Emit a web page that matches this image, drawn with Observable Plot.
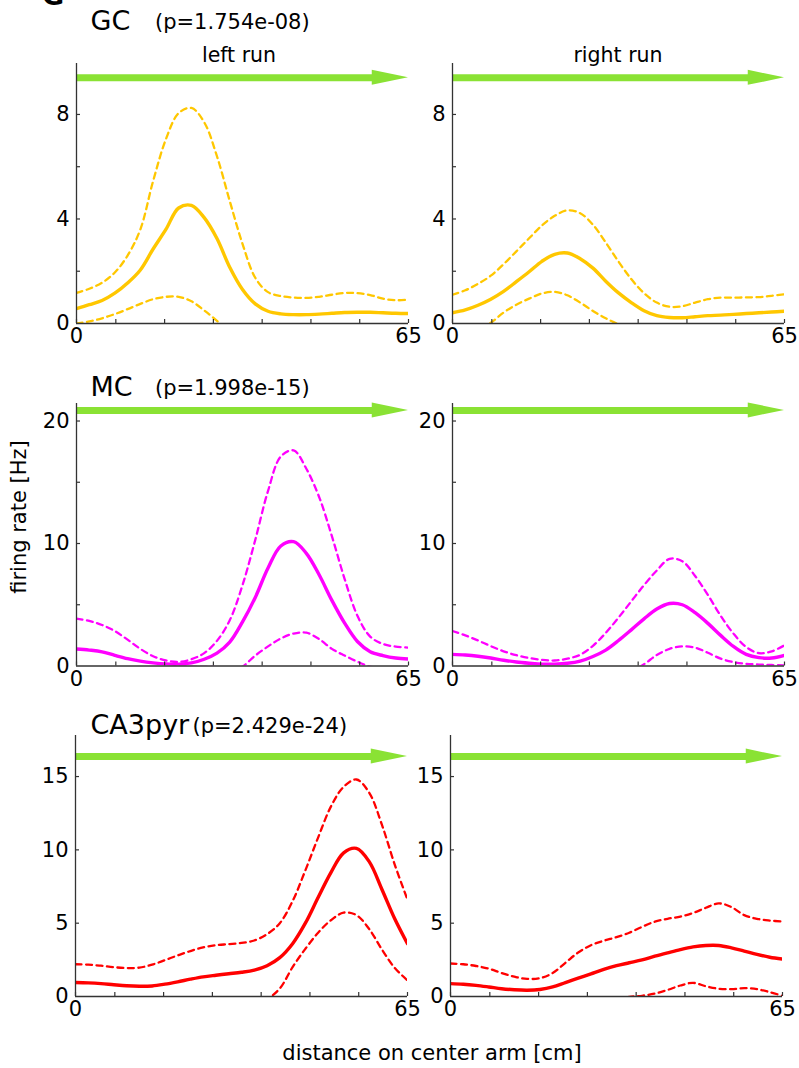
<!DOCTYPE html>
<html><head><meta charset="utf-8">
<script src="https://cdn.jsdelivr.net/npm/d3@7"></script>
<script src="https://cdn.jsdelivr.net/npm/@observablehq/plot@0.6"></script>
<style>
html,body{margin:0;padding:0;background:#fff;overflow:hidden;}
#fig{position:relative;width:799px;height:1068px;font-family:"DejaVu Sans",sans-serif;color:#000;overflow:hidden;}
.t{position:absolute;white-space:nowrap;line-height:1;}
.panel{position:absolute;}
</style></head><body><div id="fig"></div>
<script>
// ---- data ----
const xPos = [0,2.5,5,7.5,10,12.5,15,17.5,20,22.5,25,27.5,30,32.5,35,37.5,40,42.5,45,47.5,50,52.5,55,57.5,60,62.5,65];

const gcLeftMean  = [0.57,0.72,0.88,1.16,1.55,2.05,2.85,3.6,4.42,4.52,4.05,3.25,2.15,1.3,0.75,0.47,0.37,0.34,0.34,0.36,0.39,0.42,0.43,0.43,0.41,0.39,0.38];
const gcLeftUpper = [1.17,1.33,1.56,1.95,2.6,3.6,5.45,7.05,8.05,8.25,7.7,6.4,4.69,3.05,1.75,1.2,1.05,0.99,0.98,1.02,1.1,1.17,1.16,1.09,0.95,0.89,0.91];
const gcLeftLower = [0,0.08,0.2,0.36,0.55,0.75,0.93,1.02,1.02,0.85,0.5,0.1,-0.35,-0.45,-0.35,-0.3,-0.3,-0.3,-0.3,-0.3,-0.3,-0.3,-0.3,-0.3,-0.3,-0.3,-0.3];
const gcRightMean  = [0.41,0.52,0.7,0.93,1.23,1.6,1.98,2.38,2.65,2.7,2.48,2.12,1.62,1.17,0.8,0.49,0.3,0.23,0.22,0.26,0.3,0.32,0.35,0.38,0.41,0.44,0.47];
const gcRightUpper = [1.1,1.27,1.52,1.83,2.27,2.76,3.26,3.75,4.12,4.33,4.22,3.78,3.1,2.37,1.7,1.16,0.8,0.64,0.66,0.8,0.93,0.99,0.99,1.0,1.01,1.06,1.12];
const gcRightLower = [-0.7,-0.45,-0.2,0.03,0.42,0.72,0.95,1.15,1.21,1.08,0.8,0.48,0.2,-0.02,-0.1,-0.18,-0.2,-0.2,-0.2,-0.2,-0.2,-0.2,-0.2,-0.2,-0.2,-0.2,-0.2];

const mcLeftMean  = [1.39,1.3,1.16,0.87,0.6,0.4,0.26,0.17,0.15,0.25,0.55,1.05,1.95,3.6,5.6,8.0,9.8,10.15,9.2,7.45,5.36,3.5,2.0,1.17,0.85,0.65,0.57];
const mcLeftUpper = [3.87,3.68,3.35,2.85,2.15,1.4,0.8,0.45,0.33,0.55,1.05,2.05,3.73,6.6,10.3,14.3,17.1,17.6,16.1,13.8,10.6,7.1,4.1,2.4,1.8,1.58,1.5];
const mcLeftLower = [-1.1,-1.08,-1.03,-1.1,-0.95,-0.6,-0.28,-0.1,-0.03,-0.05,-0.05,-0.1,-0.5,-0.05,0.85,1.6,2.25,2.65,2.72,2.2,1.4,0.85,0.35,-0.05,-0.2,-0.3,-0.35];
const mcRightMean  = [0.95,0.9,0.8,0.65,0.47,0.33,0.23,0.15,0.15,0.22,0.4,0.78,1.3,2.08,2.95,3.85,4.65,5.1,5.0,4.35,3.48,2.5,1.6,0.95,0.68,0.65,0.87];
const mcRightUpper = [2.86,2.5,2.08,1.62,1.2,0.88,0.65,0.5,0.45,0.6,0.92,1.65,2.7,3.95,5.28,6.6,7.8,8.75,8.55,7.35,5.8,4.1,2.65,1.55,1.05,1.2,1.69];
const mcRightLower = [-0.96,-0.7,-0.48,-0.32,-0.26,-0.22,-0.19,-0.2,-0.15,-0.16,-0.12,-0.1,-0.1,-0.25,-0.4,0.15,0.9,1.4,1.6,1.5,1.08,0.6,0.32,0.18,0.12,0.08,0.05];

const caLeftMean  = [0.95,0.93,0.88,0.8,0.73,0.7,0.72,0.84,1.0,1.18,1.34,1.45,1.55,1.65,1.8,2.1,2.65,3.6,5.0,6.75,8.45,9.8,10.1,9.2,7.3,5.3,3.6];
const caLeftUpper = [2.2,2.17,2.1,2.0,1.94,1.97,2.17,2.48,2.8,3.1,3.35,3.5,3.57,3.65,3.82,4.25,5.0,6.5,8.6,10.84,12.95,14.3,14.8,13.9,11.7,9.0,6.6];
const caLeftLower = [-0.3,-0.3,-0.35,-0.4,-0.5,-0.55,-0.7,-0.8,-0.8,-0.75,-0.7,-0.6,-0.5,-0.4,-0.3,-0.15,0.55,2.0,3.25,4.35,5.2,5.72,5.55,4.6,3.2,1.95,1.1];
const caRightMean  = [0.88,0.84,0.76,0.65,0.53,0.46,0.43,0.48,0.65,0.95,1.25,1.55,1.85,2.1,2.3,2.5,2.75,2.98,3.2,3.38,3.48,3.48,3.32,3.1,2.87,2.68,2.55];
const caRightUpper = [2.25,2.2,2.08,1.9,1.6,1.35,1.2,1.25,1.6,2.3,3.0,3.5,3.8,4.05,4.35,4.75,5.1,5.3,5.45,5.7,6.05,6.35,6.1,5.55,5.3,5.18,5.11];
const caRightLower = [-0.49,-0.52,-0.56,-0.6,-0.54,-0.43,-0.34,-0.29,-0.3,-0.4,-0.5,-0.4,-0.1,-0.15,-0.02,0.05,0.2,0.45,0.75,0.93,0.7,0.53,0.5,0.57,0.5,0.3,0.05];

const cellNames = ["GC", "MC", "CA3pyr"];
const pValues = ["(p=1.754e-08)", "(p=1.998e-15)", "(p=2.429e-24)"];
const runLabels = ["left run", "right run"];
const lineColors = ["#ffc700", "#ff00ff", "#ff0000"];
const yMaxes = [9.95, 21.43, 17.8];
const yTickSets = [[2,4,6,8], [5,10,15,20], [5,10,15]];
const yTickLabels = [[0,4,8], [0,10,20], [0,5,10,15]];
const arrowYs = [9.4, 20.86, 16.36];
const xTicks = [0,7.7,17.25,26.8,36.35,45.9,55.45,65];
const xTickLabels = [0, 65];
const xDomain = [0, 65];
const arrowHeadStart = 57.9;
const xLabel = "distance on center arm [cm]";
const yLabel = "firing rate [Hz]";

// ---- layout ----
const green = "#8ae234", axisColor = "#333";
const ML = 44, MR = 14, MT = 12, MB = 34, innerW = 332;
const frameTops = [63, 403, 735];
const innerHs = [260, 262.5, 261];
const frameLefts = [[76, 452], [76, 452], [74.5, 450]];

const series = [
  [[gcLeftMean, gcLeftUpper, gcLeftLower], [gcRightMean, gcRightUpper, gcRightLower]],
  [[mcLeftMean, mcLeftUpper, mcLeftLower], [mcRightMean, mcRightUpper, mcRightLower]],
  [[caLeftMean, caLeftUpper, caLeftLower], [caRightMean, caRightUpper, caRightLower]]
];

const fig = document.getElementById("fig");

function panel(r, c) {
  const [mean, upper, lower] = series[r][c];
  const rows = xPos.map((x, i) => ({x, mean: mean[i], upper: upper[i], lower: lower[i]}));
  const yMax = yMaxes[r], innerH = innerHs[r], ay = arrowYs[r];
  const hh = 7.5 * yMax / innerH;
  const head = [{x: arrowHeadStart, lo: ay - hh, hi: ay + hh}, {x: xDomain[1], lo: ay, hi: ay}];
  const color = lineColors[r];
  const dashed = {x: "x", stroke: color, strokeWidth: 2.3, strokeDasharray: "6,4.5", curve: "catmull-rom", clip: true};
  return Plot.plot({
    width: ML + innerW + MR, height: MT + innerH + MB,
    marginLeft: ML, marginRight: MR, marginTop: MT, marginBottom: MB,
    x: {domain: xDomain}, y: {domain: [0, yMax]},
    style: {fontFamily: "DejaVu Sans", fontSize: "21px", background: "transparent", color: "#000", overflow: "visible"},
    marks: [
      Plot.line(rows, {...dashed, y: "upper"}),
      Plot.line(rows, {...dashed, y: "lower"}),
      Plot.line(rows, {x: "x", y: "mean", stroke: color, strokeWidth: 3.4, curve: "catmull-rom", clip: true}),
      Plot.ruleY([ay], {x1: xDomain[0], x2: arrowHeadStart + 0.3, stroke: green, strokeWidth: 7}),
      Plot.areaY(head, {x: "x", y1: "lo", y2: "hi", fill: green, curve: "linear"}),
      Plot.ruleX([0], {stroke: axisColor, strokeWidth: 1.3}),
      Plot.ruleY([0], {stroke: axisColor, strokeWidth: 1.3}),
      Plot.tickY(yTickSets[r], {stroke: axisColor, strokeWidth: 1.2, insetRight: innerW - 4}),
      Plot.tickX(xTicks, {stroke: axisColor, strokeWidth: 1.2, insetTop: innerH - 4}),
      Plot.axisY(yTickLabels[r], {tickSize: 0, tickPadding: 7, fontSize: 21, label: null, fill: "#000"}),
      Plot.axisX(xTickLabels, {tickSize: 0, tickPadding: 5, fontSize: 21, label: null, fill: "#000"})
    ]
  });
}

for (let r = 0; r < 3; r++) {
  for (let c = 0; c < 2; c++) {
    const div = document.createElement("div");
    div.className = "panel";
    div.style.left = (frameLefts[r][c] - ML) + "px";
    div.style.top = (frameTops[r] - MT) + "px";
    div.appendChild(panel(r, c));
    fig.appendChild(div);
  }
}

function addText(str, x, baseline, size, opt = {}) {
  const d = document.createElement("div");
  d.className = "t";
  d.textContent = str;
  d.style.fontSize = size + "px";
  if (opt.weight) d.style.fontWeight = opt.weight;
  if (opt.rotate) {
    d.style.left = x + "px";
    d.style.top = baseline + "px";
    d.style.transform = "translate(-50%,-50%) rotate(-90deg)";
  } else {
    d.style.left = x + "px";
    d.style.top = (baseline - 0.846 * size) + "px";
    if (opt.middle) d.style.transform = "translateX(-50%)";
  }
  fig.appendChild(d);
}

addText("G", 42, 4.5, 27, {weight: "bold"});
const titleBaselines = [29.5, 396, 734];
const pLefts = [155, 155, 192.5];
for (let r = 0; r < 3; r++) {
  addText(cellNames[r], 90.5, titleBaselines[r], 27);
  addText(pValues[r], pLefts[r], titleBaselines[r], 21);
}
addText(runLabels[0], 239, 62.5, 20.5, {middle: true});
addText(runLabels[1], 618, 62, 20.5, {middle: true});
addText(yLabel, 19, 517, 21, {rotate: true});
addText(xLabel, 432, 1061, 21, {middle: true});
</script>
</body></html>
